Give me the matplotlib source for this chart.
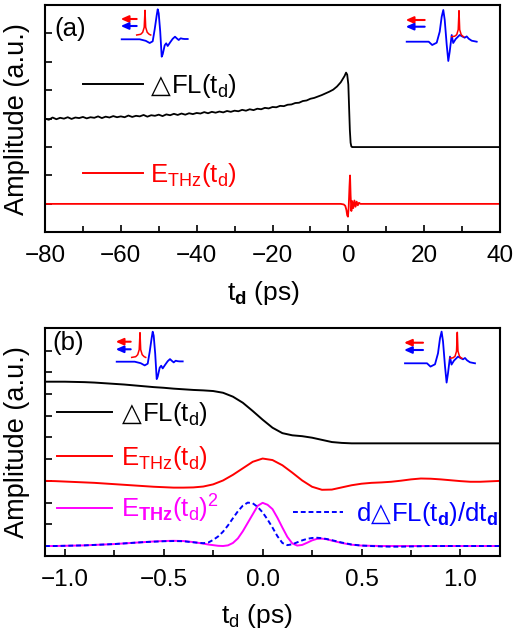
import matplotlib
matplotlib.use('Agg')
import matplotlib.pyplot as plt
from matplotlib.ticker import MultipleLocator

plt.rcParams['font.family'] = ['Liberation Sans', 'DejaVu Sans']
plt.rcParams['mathtext.fontset'] = 'custom'
plt.rcParams['mathtext.rm'] = 'Liberation Sans'
plt.rcParams['mathtext.it'] = 'Liberation Sans:italic'
plt.rcParams['mathtext.bf'] = 'Liberation Sans:bold'

# ---------------- panel (a) data ----------------
t_a_fl = [-80, -79, -78, -77, -76, -75, -74, -73, -72, -71, -70, -69, -68, -67, -66, -65,
          -64, -63, -62, -61, -60, -59, -58, -57, -56, -55, -54, -53, -52, -51, -50, -49,
          -48, -47, -46, -45, -44, -43, -42, -41, -40, -39, -38, -37, -36, -35, -34, -33,
          -32, -31, -30, -29, -28, -27, -26, -25, -24, -23, -22, -21, -20, -19, -18, -17,
          -16, -15, -14, -13, -12, -11, -10, -9, -8, -7, -6, -5, -4, -3, -2, -1, -0.6,
          -0.3, 0.0, 0.2, 0.4, 0.6, 0.8, 1.0, 40]
dfl_a = [4.00, 3.96, 4.04, 3.98, 4.03, 4.00, 4.05, 3.99, 4.04, 4.02, 4.06, 4.01, 4.05, 4.03, 4.08, 4.02,
         4.07, 4.04, 4.09, 4.05, 4.08, 4.05, 4.11, 4.06, 4.10, 4.08, 4.13, 4.07, 4.12, 4.10, 4.14, 4.09,
         4.15, 4.12, 4.17, 4.13, 4.18, 4.14, 4.19, 4.16, 4.20, 4.18, 4.23, 4.19, 4.24, 4.21, 4.25, 4.22,
         4.27, 4.24, 4.28, 4.26, 4.31, 4.28, 4.33, 4.30, 4.35, 4.33, 4.38, 4.36, 4.41, 4.40, 4.45, 4.44,
         4.49, 4.50, 4.55, 4.56, 4.62, 4.64, 4.70, 4.73, 4.78, 4.83, 4.89, 4.95, 5.02, 5.13, 5.28, 5.50, 5.62,
         5.55, 5.20, 4.40, 3.60, 3.15, 3.02, 3.00, 3.00]
t_a_e = [-80, -2, -1.2, -0.8, -0.5, -0.3, -0.1, 0.1, 0.3, 0.45, 0.6, 0.8, 1.0, 1.3, 1.6, 1.9,
         2.2, 2.5, 2.8, 3.2, 40]
ethz_a = [1.0, 1.0, 0.98, 0.93, 0.78, 0.6, 0.55, 0.9, 1.6, 2.0, 1.3, 0.75, 1.1, 0.85, 1.12, 0.9,
          1.08, 0.95, 1.04, 1.0, 1.0]

# ---------------- panel (b) data ----------------
t_b = [-1.10, -1.05, -1.00, -0.95, -0.90, -0.85, -0.80, -0.75, -0.70, -0.65, -0.60, -0.55,
       -0.50, -0.45, -0.40, -0.35, -0.30, -0.25, -0.20, -0.15, -0.10, -0.05, 0.00, 0.05,
       0.10, 0.15, 0.20, 0.25, 0.30, 0.35, 0.40, 0.45, 0.50, 0.55, 0.60, 0.65, 0.70, 0.75,
       0.80, 0.85, 0.90, 0.95, 1.00, 1.05, 1.10, 1.15, 1.20]
dfl_b = [7.57, 7.57, 7.57, 7.56, 7.55, 7.53, 7.50, 7.47, 7.44, 7.40, 7.36, 7.32,
         7.29, 7.25, 7.22, 7.19, 7.17, 7.14, 7.06, 6.88, 6.60, 6.22, 5.82, 5.45,
         5.20, 5.10, 5.06, 4.99, 4.89, 4.79, 4.75, 4.73, 4.73, 4.73, 4.73, 4.73, 4.73, 4.73,
         4.73, 4.73, 4.73, 4.73, 4.73, 4.73, 4.73, 4.73, 4.73]
ethz_b = [3.00, 2.99, 2.97, 2.95, 2.93, 2.91, 2.88, 2.85, 2.82, 2.79, 2.76, 2.73,
          2.71, 2.69, 2.69, 2.70, 2.74, 2.84, 3.02, 3.28, 3.58, 3.88, 4.03, 3.96,
          3.72, 3.38, 3.02, 2.73, 2.59, 2.60, 2.70, 2.80, 2.87, 2.91, 2.93, 2.96, 3.01, 3.07,
          3.11, 3.10, 3.07, 3.03, 2.99, 2.96, 2.96, 2.98, 3.00]
t_b2 = [-1.10, -1.05, -1.00, -0.95, -0.90, -0.85, -0.80, -0.75, -0.70, -0.65, -0.60, -0.55,
        -0.50, -0.45, -0.40, -0.35, -0.30,
        -0.275, -0.25, -0.225, -0.20, -0.175, -0.15, -0.125, -0.10, -0.075, -0.05, -0.025,
        0.00, 0.025, 0.05, 0.075, 0.10, 0.125, 0.15, 0.175, 0.20, 0.225, 0.25, 0.275,
        0.30, 0.325, 0.35,
        0.40, 0.45, 0.50, 0.55, 0.60, 0.65, 0.70, 0.75, 0.80, 0.85, 0.90, 0.95, 1.00,
        1.05, 1.10, 1.15, 1.20]
ethz2_b = [0.00, 0.00, 0.01, 0.02, 0.03, 0.05, 0.07, 0.09, 0.12, 0.15, 0.18, 0.21,
           0.23, 0.24, 0.23, 0.18, 0.11,
           0.07, 0.04, 0.01, 0.00, 0.03, 0.14, 0.35, 0.68, 1.07, 1.46, 1.85,
           1.99, 1.90, 1.70, 1.30, 0.85, 0.42, 0.12, 0.02, 0.05, 0.15, 0.26, 0.33,
           0.34, 0.31, 0.25,
           0.14, 0.06, 0.02, 0.01, 0.00, 0.00, 0.00, 0.00, 0.00, 0.00, 0.00, 0.00, 0.00,
           0.00, 0.00, 0.00, 0.00]
ddfl_b = [0.00, 0.00, 0.01, 0.02, 0.03, 0.05, 0.07, 0.09, 0.12, 0.15, 0.18, 0.20,
          0.22, 0.23, 0.22, 0.17, 0.13,
          0.16, 0.28, 0.44, 0.66, 0.95, 1.28, 1.60, 1.86, 2.00, 1.97, 1.80,
          1.55, 1.22, 0.85, 0.45, 0.14, 0.04, 0.08, 0.17, 0.26, 0.33, 0.37, 0.38,
          0.36, 0.32, 0.27,
          0.16, 0.07, 0.02, 0.00, -0.02, -0.03, -0.03, -0.02, -0.01, 0.00, 0.00, 0.00, 0.00,
          0.00, 0.00, 0.00, 0.00]

# ---------------- inset sketches (relative pixel shapes) ----------------
thz_left_x = [0, 18, 24, 28, 31, 33, 35, 36, 37, 38.5, 40, 41, 43, 44.5, 46, 48.5, 51, 53.3, 55, 57, 59, 61, 63, 66]
thz_left_y = [0, 0, -1.5, -3.7, -2, 10, 24, 30, 26, 8, -17.4, -15, -6, -4, -6.7, -3, 0.5, 2.6, 1, -0.7, 1, 0.5, 0.3, 0.3]
probe_left_x = [15, 19, 21, 22.5, 23.3, 24, 25.5, 27.5, 29]
probe_left_y = [4.3, 5, 7, 12, 29, 12, 7, 5, 4.3]
thz_right_x = [0, 22, 25.5, 30, 33, 35, 36.6, 38, 40, 41.6, 43, 45, 46.5, 49, 53, 56, 58, 60, 62, 65, 70]
thz_right_y = [0, 0, -3.3, -1, 10, 25, 31.7, 22, -3, -19.3, -10, 6.7, -1.3, 2.7, 6.7, 5, 4, 5.3, 3, 1, 0]
probe_right_x = [45, 48, 50, 51.5, 52.3, 53, 54.5, 56, 57]
probe_right_y = [5, 5.5, 7, 12, 31, 12, 7, 5.5, 5]

W, H = 514, 637
fig = plt.figure(figsize=(W / 100, H / 100), dpi=100)


def px_axes(l, t, r, b):
    return [l / W, 1 - b / H, (r - l) / W, (b - t) / H]


ax1 = fig.add_axes(px_axes(45, 5, 500, 232.3))
ax2 = fig.add_axes(px_axes(45, 328.3, 500, 556))

FS = 17.5
for ax in (ax1, ax2):
    for s in ax.spines.values():
        s.set_linewidth(1.5)
    ax.tick_params(which='both', direction='in', top=False, right=False, width=1.2,
                   labelsize=FS, labelleft=False)
    ax.tick_params(which='major', length=5, pad=9)
    ax.tick_params(which='minor', length=4)
    ax.set_ylabel('Amplitude (a.u.)', fontsize=19.5)
    ax.yaxis.set_label_coords(-0.032, 0.5)

# panel (a)
ax1.plot(t_a_fl, dfl_a, color='black', lw=1.3)
ax1.plot(t_a_e, ethz_a, color='red', lw=1.3)
ax1.set_xlim(-80, 40)
ax1.set_ylim(0, 8)
ax1.xaxis.set_major_locator(MultipleLocator(20))
ax1.xaxis.set_minor_locator(MultipleLocator(10))
ax1.set_yticks(range(1, 8))
ax1.set_xlabel(r't$_\mathbf{d}$ (ps)', fontsize=19, va='top')
ax1.xaxis.set_label_coords(0.479, -0.205)

# panel (b)
ax2.plot(t_b, dfl_b, color='black', lw=1.4)
ax2.plot(t_b, ethz_b, color='red', lw=1.4)
ax2.plot(t_b2, ethz2_b, color='#FF00FF', lw=1.4)
ax2.plot(t_b2, ddfl_b, color='#0000FF', lw=1.4, ls=(0, (2.5, 1.5)))
ax2.set_xlim(-1.1, 1.2)
ax2.set_ylim(-0.46, 10.03)
ax2.xaxis.set_major_locator(MultipleLocator(0.5))
ax2.xaxis.set_minor_locator(MultipleLocator(0.25))
ax2.set_yticks(range(1, 10))
ax2.set_xlabel(r't$_\mathrm{d}$ (ps)', fontsize=19, va='top')
ax2.xaxis.set_label_coords(0.466, -0.2)

# overlay in pixel coordinates for legends and sketches
ov = fig.add_axes([0, 0, 1, 1], zorder=10)
ov.set_xlim(0, W)
ov.set_ylim(H, 0)
ov.axis('off')
ov.patch.set_alpha(0)

renderer = fig.canvas.get_renderer()
LFS = 18.5


def rich_text(x, y, parts, color):
    # parts: list of (string, family or None)
    for s, fam in parts:
        kw = {}
        if fam:
            kw['family'] = fam
        t = ov.text(x, y, s, color=color, fontsize=LFS, va='baseline', ha='left', **kw)
        bb = t.get_window_extent(renderer)
        x += bb.width


def legend_entry(x0, x1, y, tx, parts, color, ls='-'):
    ov.plot([x0, x1], [y, y], color=color, lw=1.4, ls=ls)
    rich_text(tx, y + 9, parts, color)


TRI = ('△', 'DejaVu Sans')
legend_entry(83, 143, 84.3, 151, [TRI, (r'FL(t$_\mathrm{d}$)', None)], 'black')
legend_entry(83, 143, 173.3, 150, [(r'E$_\mathrm{THz}$(t$_\mathrm{d}$)', None)], 'red')
legend_entry(57, 112, 411.7, 122, [TRI, (r'FL(t$_\mathrm{d}$)', None)], 'black')
legend_entry(57, 112, 456, 121, [(r'E$_\mathrm{THz}$(t$_\mathrm{d}$)', None)], 'red')
legend_entry(57, 112, 508.3, 121, [(r'E$_\mathbf{THz}$(t$_\mathrm{d}$)$^\mathrm{2}$', None)], '#FF00FF')
legend_entry(293, 343, 511.7, 357, [('d', None), TRI, (r'FL(t$_\mathbf{d}$)/dt$_\mathbf{d}$', None)],
             '#0000FF', ls=(0, (2.5, 1.5)))

ov.text(54, 36, '(a)', fontsize=LFS, va='baseline', ha='left')
ov.text(52, 350, '(b)', fontsize=LFS, va='baseline', ha='left')


def arrow(x_from, x_to, y, color):
    ov.annotate('', xy=(x_to, y), xytext=(x_from, y),
                arrowprops=dict(arrowstyle='-|>,head_length=0.45,head_width=0.2',
                                color=color, lw=1.5, shrinkA=0, shrinkB=0, mutation_scale=10))


def sketch(ox, oy, tx, ty, px, py, red_dy, blue_dy, arrow_len):
    ov.plot([ox + v for v in tx], [oy - v for v in ty], color='#0000FF', lw=1.3)
    ov.plot([ox + v for v in px], [oy - v for v in py], color='red', lw=1.1)
    arrow(ox + arrow_len, ox - 1, oy - red_dy, 'red')
    arrow(ox + arrow_len, ox - 1, oy - blue_dy, '#0000FF')


sketch(121.7, 39.3, thz_left_x, thz_left_y, probe_left_x, probe_left_y, 20.3, 13.3, 15)
sketch(406.7, 41.7, thz_right_x, thz_right_y, probe_right_x, probe_right_y, 21.7, 15, 18)
sketch(116.7, 361.7, thz_left_x, thz_left_y, probe_left_x, probe_left_y, 20, 12.4, 14)
sketch(405, 363.3, thz_right_x, thz_right_y, probe_right_x, probe_right_y, 20.6, 13.3, 18)

fig.savefig('out.png', dpi=100)
